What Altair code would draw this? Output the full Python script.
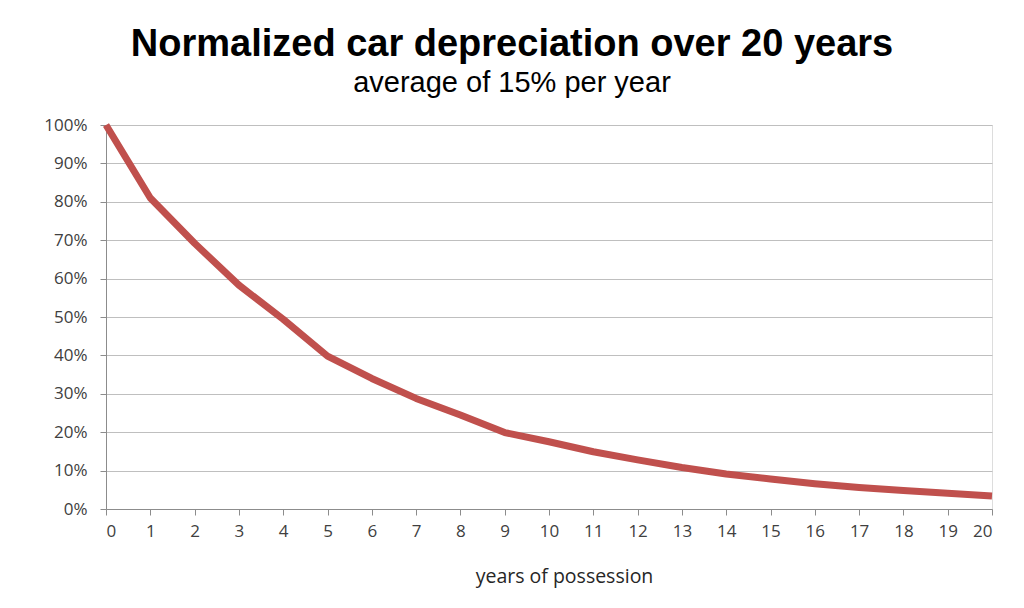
import altair as alt
import pandas as pd

years = list(range(0, 21))
value_pct = [100, 81, 69.2, 58.3, 49.4, 39.8, 34, 28.8, 24.5, 19.9,
             17.5, 14.9, 12.8, 10.8, 9.1, 7.8, 6.6, 5.6, 4.8, 4.1, 3.4]

df = pd.DataFrame({"year": years, "value": [v / 100 for v in value_pct]})

label_font = "Open Sans"

line = alt.Chart(df).mark_line(color="#C0504D", strokeWidth=7, strokeJoin="round", strokeCap="butt").encode(
    x=alt.X("year:Q",
            scale=alt.Scale(domain=[0, 20], nice=False, zero=False),
            axis=alt.Axis(values=years, format="d", title="years of possession",
                          grid=False, tickSize=6, labelPadding=8,
                          labelFontSize=17, labelColor="#404040", labelFont=label_font,
                          titleFontSize=19.5, titleFont=label_font, titleFontWeight="normal",
                          titleColor="#262626", titleX=458, titleY=73,
                          titleBaseline="alphabetic",
                          domainColor="#8c8c8c", tickColor="#8c8c8c")),
    y=alt.Y("value:Q",
            scale=alt.Scale(domain=[0, 1], nice=False),
            axis=alt.Axis(values=[i / 10 for i in range(11)], format=".0%", title=None,
                          grid=True, gridColor="#bfbfbf", gridWidth=1.2,
                          tickSize=6, labelPadding=13,
                          labelFontSize=17, labelColor="#404040", labelFont=label_font,
                          domainColor="#8c8c8c", tickColor="#8c8c8c")),
)

chart = line.properties(
    width=886,
    height=384,
    autosize="none",
    padding={"left": 106, "top": 125, "right": 32, "bottom": 99},
    title=alt.TitleParams(
        text="Normalized car depreciation over 20 years",
        subtitle="average of 15% per year",
        anchor="middle",
        dx=-37,
        offset=18,
        font="Liberation Sans",
        fontSize=38,
        fontWeight="bold",
        color="#000000",
        subtitleFont="Liberation Sans",
        subtitleFontSize=29,
        subtitleColor="#000000",
        subtitlePadding=5,
    ),
).configure_view(stroke=None).configure(background="white")

chart.save("out.html", embed_options={"renderer": "svg", "actions": False})
